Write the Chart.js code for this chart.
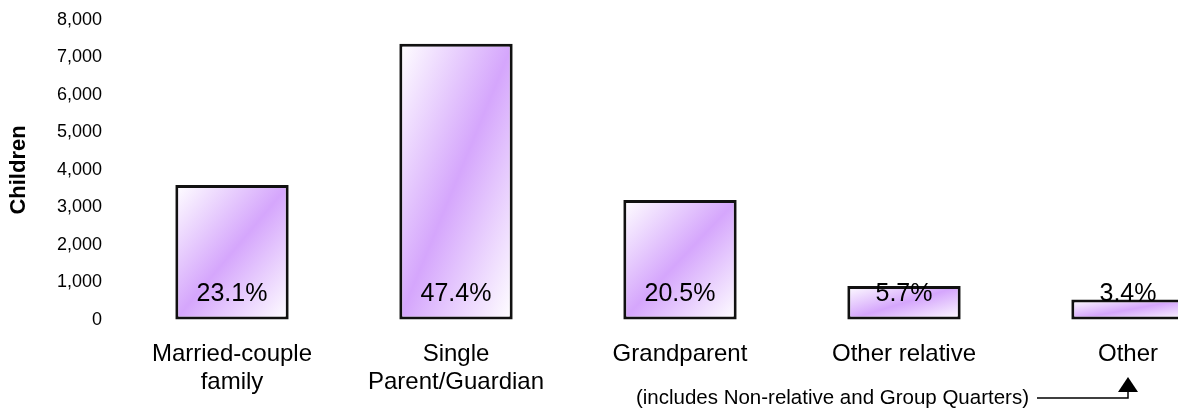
<!DOCTYPE html>
<html>
<head>
<meta charset="utf-8">
<script src="https://cdn.jsdelivr.net/npm/chart.js@4/dist/chart.umd.min.js"></script>
<style>
  html, body { margin: 0; padding: 0; background: #fff; overflow: hidden; }
  #wrap { width: 1178px; height: 408px; overflow: hidden; }
</style>
</head>
<body>
<div id="wrap"><canvas id="chart" width="1250" height="408"></canvas></div>
<script>
// Children by living arrangement — bars with % share labels.

const categories = [
  ['Married-couple', 'family'],
  ['Single', 'Parent/Guardian'],
  'Grandparent',
  'Other relative',
  'Other',
];
const children = [3600, 7370, 3200, 910, 545];
const shares = ['23.1%', '47.4%', '20.5%', '5.7%', '3.4%'];
const yTicks = [0, 1000, 2000, 3000, 4000, 5000, 6000, 7000, 8000];
const note = '(includes Non-relative and Group Quarters)';

const FONT = "'Liberation Sans', Arial, sans-serif";
const PURPLE = '#d5a6fc';

// Excel-style diagonal fill: isolines follow the box's anti-diagonal.
function barFill(ctx) {
  const chart = ctx.chart;
  const { x, y } = chart.scales;
  if (!x || !y || ctx.type !== 'data') return PURPLE;
  const cx = x.getPixelForValue(ctx.dataIndex);
  const w = (x.width / categories.length) * 0.506;
  const L = cx - w / 2;
  const T = y.getPixelForValue(ctx.raw);
  const h = Math.max(1, y.getPixelForValue(0) - T);
  const k = (2 * w * h) / (w * w + h * h);
  const pts = [L, T, L + h * k, T + w * k];
  if (!pts.every(Number.isFinite) || w <= 0) return PURPLE;
  const g = chart.ctx.createLinearGradient(...pts);
  g.addColorStop(0, '#ffffff');
  g.addColorStop(0.5, PURPLE);
  g.addColorStop(1, '#ffffff');
  return g;
}

const shareLabels = {
  id: 'shareLabels',
  afterDatasetsDraw(chart) {
    const { ctx } = chart;
    const meta = chart.getDatasetMeta(0);
    ctx.save();
    ctx.font = `25px ${FONT}`;
    ctx.fillStyle = '#000';
    ctx.textAlign = 'center';
    ctx.textBaseline = 'middle';
    meta.data.forEach((bar, i) => {
      ctx.fillText(shares[i], bar.x, bar.base - 25);
    });
    ctx.restore();
  },
};

const otherNote = {
  id: 'otherNote',
  afterDraw(chart) {
    const { ctx } = chart;
    const ax = chart.scales.x.getPixelForValue(categories.length - 1);
    const ly = 398;
    ctx.save();
    ctx.font = `20.5px ${FONT}`;
    ctx.fillStyle = '#000';
    ctx.textAlign = 'right';
    ctx.textBaseline = 'middle';
    const tx = ax - 99;
    ctx.fillText(note, tx, ly);
    ctx.strokeStyle = '#000';
    ctx.lineWidth = 1.5;
    ctx.beginPath();
    ctx.moveTo(tx + 8, ly);
    ctx.lineTo(ax, ly);
    ctx.lineTo(ax, 390);
    ctx.stroke();
    ctx.beginPath();
    ctx.moveTo(ax - 10, 392);
    ctx.lineTo(ax + 10, 392);
    ctx.lineTo(ax, 377);
    ctx.closePath();
    ctx.fill();
    ctx.restore();
  },
};

new Chart(document.getElementById('chart'), {
  type: 'bar',
  data: {
    labels: categories,
    datasets: [{
      data: children,
      backgroundColor: barFill,
      borderColor: '#111',
      borderWidth: 3,
      borderSkipped: false,
      categoryPercentage: 1,
      barPercentage: 0.506,
    }],
  },
  options: {
    responsive: false,
    animation: false,
    layout: { padding: { top: 20, right: 10, left: 0, bottom: 0 } },
    plugins: { legend: { display: false }, tooltip: { enabled: false } },
    scales: {
      x: {
        grid: { display: false, drawTicks: false },
        border: { display: false },
        ticks: { color: '#000', font: { family: FONT, size: 24, lineHeight: 1.15 }, padding: 21, maxRotation: 0, autoSkip: false },
        afterFit: (s) => { s.height = 88; },
      },
      y: {
        min: 0,
        max: 8000,
        // invisible tick marks give the label gap without padding the chart top
        grid: { display: true, drawOnChartArea: false, drawTicks: true, tickLength: 18, tickColor: 'rgba(0,0,0,0)', color: 'rgba(0,0,0,0)' },
        border: { display: false },
        afterBuildTicks: (s) => { s.ticks = yTicks.map((v) => ({ value: v })); },
        ticks: { color: '#000', font: { family: FONT, size: 18 }, padding: 0, callback: (v) => Number(v).toLocaleString('en-US') },
        title: { display: true, text: 'Children', color: '#000', font: { family: FONT, size: 22, weight: 'bold' }, padding: { top: 6, bottom: 0 } },
        afterFit: (s) => { s.width = 120; },
      },
    },
  },
  plugins: [shareLabels, otherNote],
});
</script>
</body>
</html>
